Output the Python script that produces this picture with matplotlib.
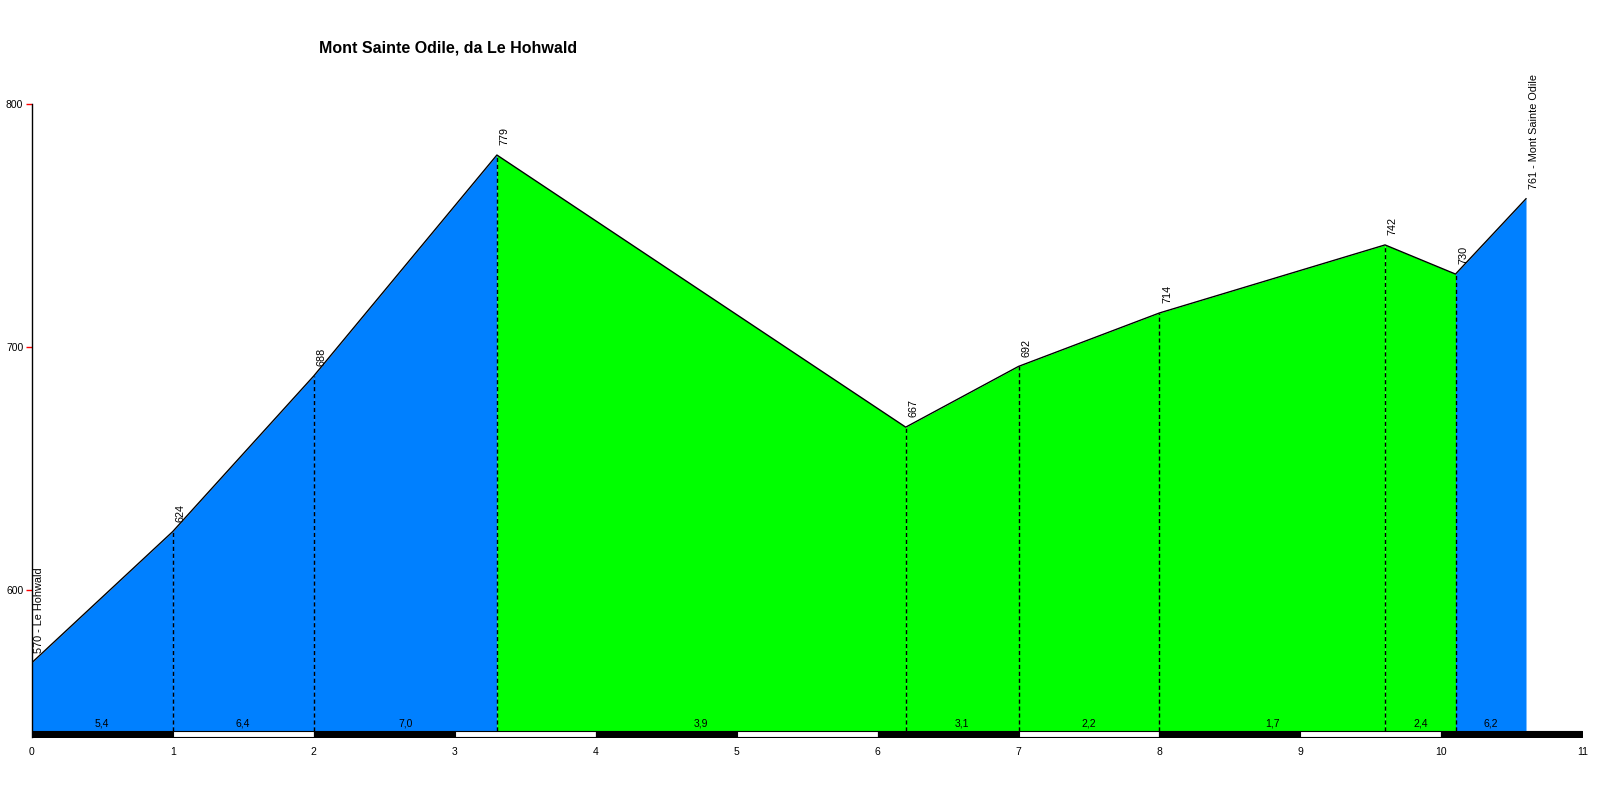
import numpy as np
import matplotlib.pyplot as plt

plt.rcParams['font.family'] = ['Liberation Sans', 'DejaVu Sans']

# profile points (km, elevation in m)
km = [0, 1, 2, 3.3, 6.2, 7.0, 8.0, 9.6, 10.1, 10.6]
quota = [570, 624, 688, 779, 667, 692, 714, 742, 730, 761]
# gradient label and colour per segment
pendenza = ['5,4', '6,4', '7,0', '3,9', '3,1', '2,2', '1,7', '2,4', '6,2']
colori = ['#0080FF', '#0080FF', '#0080FF', '#00FF00', '#00FF00', '#00FF00',
          '#00FF00', '#00FF00', '#0080FF']
start_name = 'Le Hohwald'
end_name = 'Mont Sainte Odile'
title = 'Mont Sainte Odile, da Le Hohwald'

base = 542
bar_low = 539.5
km_max = 11

fig = plt.figure(figsize=(16, 8), dpi=100)
ax = fig.add_axes([0.0198, 0.0788, 0.9692, 0.7912])

# coloured segments
for i in range(len(km) - 1):
    ax.fill_between([km[i], km[i + 1]], [quota[i], quota[i + 1]], base,
                    color=colori[i], linewidth=0)
    ax.text((km[i] + km[i + 1]) / 2, base + 0.8, pendenza[i], ha='center',
            va='bottom', fontsize=7.5)

ax.plot(km, quota, color='black', lw=1)

# dashed verticals at intermediate points
for x, y in zip(km[1:-1], quota[1:-1]):
    ax.plot([x, x], [base, y], color='black', lw=1, ls=(0, (3, 2)))

# elevation labels
for i, (x, y) in enumerate(zip(km, quota)):
    txt = str(y)
    if i == 0:
        txt = f'{y} - {start_name}'
    elif i == len(km) - 1:
        txt = f'{y} - {end_name}'
    ax.annotate(txt, (x, y), xytext=(2, 7), textcoords='offset points',
                rotation=90, ha='left', va='bottom', fontsize=7.8)

# km bar
for k in range(km_max):
    c = 'black' if k % 2 == 0 else 'white'
    ax.fill_between([k, k + 1], bar_low, base, color=c, edgecolor='black',
                    linewidth=0.8)

ax.set_xlim(0, km_max)
ax.set_ylim(bar_low, 800)
ax.set_yticks([600, 700, 800])
ax.set_xticks(range(km_max + 1))
ax.tick_params(axis='y', colors='red', length=4, width=1, labelsize=7.5,
               labelcolor='black', pad=2)
ax.tick_params(axis='x', length=0, labelsize=7.5, pad=7)
for s in ['top', 'right', 'bottom']:
    ax.spines[s].set_visible(False)
ax.spines['left'].set_linewidth(1)

fig.text(0.28, 0.94, title, ha='center', va='center', fontsize=11.5,
         fontweight='bold')

plt.savefig('out.png')
plt.close()
